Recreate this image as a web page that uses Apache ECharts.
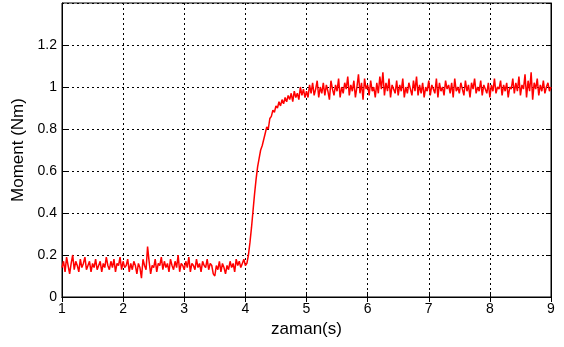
<!DOCTYPE html>
<html>
<head>
<meta charset="utf-8">
<script src="https://cdn.jsdelivr.net/npm/echarts@6/dist/echarts.min.js"></script>
<style>
    html, body { margin: 0; padding: 0; background: #fff; }
    #chart { width: 564px; height: 347px; }
</style>
</head>
<body>
<div id="chart"></div>
<script>
// sampling of the recorded signal
const tStart = 1
const tStep = 0.025

// torque readings (Nm), one per sample
const moment = [
    .14, .17, .12, .19, .15, .11, .16, .20, .13, .17,
    .15, .12, .18, .14, .16, .19, .13, .15, .17, .12,
    .16, .14, .18, .13, .15, .17, .12, .16, .14, .19,
    .15, .13, .17, .14, .18, .12, .16, .15, .19, .13,
    .17, .14, .15, .18, .12, .16, .13, .17, .15, .11,
    .16, .14, .09, .18, .15, .13, .24, .17, .11, .15,
    .14, .18, .12, .16, .15, .19, .13, .17, .14, .16,
    .12, .18, .15, .13, .17, .14, .20, .12, .16, .15,
    .13, .17, .14, .19, .12, .16, .15, .13, .18, .14,
    .16, .12, .17, .15, .14, .18, .13, .16, .15, .11,
    .10, .15, .13, .17, .12, .16, .14, .11, .15, .13,
    .17, .14, .16, .12, .18, .15, .17, .14, .16, .18,
    .15, .16, .20, .26, .33, .41, .49, .56, .62, .66,
    .70, .72, .75, .78, .81, .80, .85, .86, .89, .88,
    .91, .90, .93, .91, .94, .92, .95, .93, .96, .94,
    .97, .93, .98, .95, .97, .94, 1.00, .96, .99, .95,
    .98, .95, 1.01, .97, 1.02, .96, .99, 1.03, .95, 1.00,
    .97, 1.02, .96, 1.01, .98, .94, 1.03, .99, .96, 1.01,
    .98, 1.04, .95, 1.00, .97, 1.02, .99, 1.05, .96, 1.01,
    .98, 1.03, .95, 1.00, 1.06, .97, 1.02, .94, 1.04, .99,
    1.01, .96, 1.03, .98, 1.00, .95, 1.02, .97, 1.05, .99,
    1.07, .96, 1.02, .98, 1.04, .95, 1.01, .99, .97, 1.03,
    .96, 1.01, .98, 1.04, .95, 1.00, .97, 1.02, .99, .96,
    1.03, .98, 1.05, .96, 1.01, .97, 1.02, .95, 1.00, .98,
    1.03, .96, 1.01, .99, .97, 1.04, .95, 1.02, .98, 1.00,
    .96, 1.03, .99, 1.01, .97, 1.02, .95, 1.04, .98, 1.00,
    .97, 1.02, .99, .96, 1.03, .98, 1.01, .95, 1.02, .99,
    1.04, .97, 1.00, .98, 1.03, .96, 1.01, .99, .97, 1.02,
    .95, 1.01, .98, 1.04, .97, 1.00, .99, 1.03, .96, 1.01,
    .98, 1.02, .95, 1.00, .99, 1.04, .97, 1.02, .98, 1.05,
    .96, 1.01, .99, 1.06, .95, 1.03, .98, 1.07, .94, 1.02,
    .99, 1.04, .96, 1.01, .98, 1.03, .97, 1.00, 1.02, .98,
    1.00
]

const xTicks = [1, 2, 3, 4, 5, 6, 7, 8, 9]
const yTicks = [0, 0.2, 0.4, 0.6, 0.8, 1, 1.2, 1.4]

const chart = echarts.init(document.getElementById('chart'))

const seriesData = moment.map((v, i) => [+(tStart + i * tStep).toFixed(3), v])

const font = 'Liberation Sans, Arial, sans-serif'
const gridLine = { show: true, lineStyle: { color: '#000', type: [2, 3], width: 1 } }

chart.setOption({
    animation: false,
    grid: {
        left: 62,
        right: 13,
        top: 3,
        bottom: 50,
        show: true,
        borderColor: '#000',
        borderWidth: 1
    },
    xAxis: [
        {
            type: 'value',
            min: xTicks[0],
            max: xTicks[xTicks.length - 1],
            interval: 1,
            name: 'zaman(s)',
            nameLocation: 'middle',
            nameGap: 24,
            nameTextStyle: { color: '#000', fontSize: 17, fontFamily: font },
            axisLine: { show: true, lineStyle: { color: '#000' } },
            axisTick: { show: true, inside: true, length: 5, lineStyle: { color: '#000' } },
            axisLabel: { color: '#000', fontSize: 14, fontFamily: font, margin: 5 },
            splitLine: gridLine
        },
        {
            type: 'value',
            position: 'top',
            min: xTicks[0],
            max: xTicks[xTicks.length - 1],
            interval: 1,
            axisLine: { show: true, lineStyle: { color: '#000' } },
            axisTick: { show: true, inside: true, length: 5, lineStyle: { color: '#000' } },
            axisLabel: { show: false },
            splitLine: { show: false }
        }
    ],
    yAxis: [
        {
            type: 'value',
            min: yTicks[0],
            max: yTicks[yTicks.length - 1],
            interval: 0.2,
            name: 'Moment (Nm)',
            nameLocation: 'middle',
            nameGap: 30,
            nameTextStyle: { color: '#000', fontSize: 17, fontFamily: font },
            axisLine: { show: true, lineStyle: { color: '#000' } },
            axisTick: { show: true, inside: true, length: 5, lineStyle: { color: '#000' } },
            axisLabel: { color: '#000', fontSize: 14, fontFamily: font, margin: 5, showMaxLabel: false },
            splitLine: gridLine
        },
        {
            type: 'value',
            position: 'right',
            min: yTicks[0],
            max: yTicks[yTicks.length - 1],
            interval: 0.2,
            axisLine: { show: true, lineStyle: { color: '#000' } },
            axisTick: { show: true, inside: true, length: 5, lineStyle: { color: '#000' } },
            axisLabel: { show: false },
            splitLine: { show: false }
        }
    ],
    series: [
        {
            name: 'Moment',
            type: 'line',
            data: seriesData,
            showSymbol: false,
            lineStyle: { color: '#ff0000', width: 1.5 },
            z: 5
        }
    ]
})
</script>
</body>
</html>
